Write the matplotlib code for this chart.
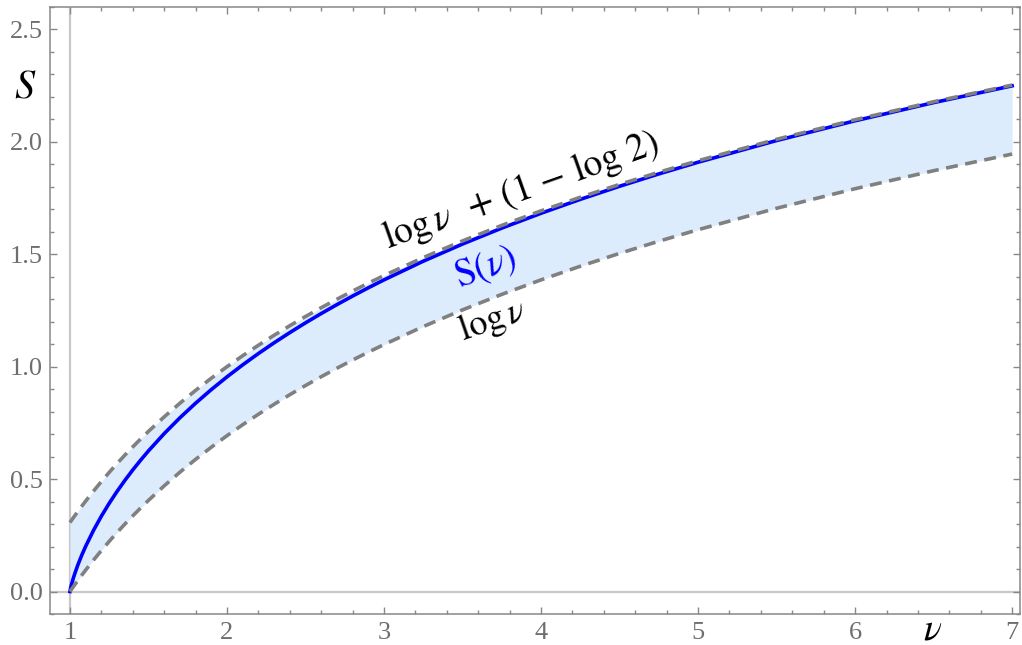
import matplotlib
matplotlib.use("Agg")
import matplotlib.pyplot as plt
from matplotlib.ticker import MultipleLocator, FixedLocator

plt.rcParams['mathtext.fontset'] = 'stix'

# Data (nu, lower bound log nu, upper bound, S(nu))
nu = [1.0, 1.005, 1.01, 1.02, 1.03, 1.05, 1.075, 1.1, 1.15, 1.2, 1.25, 1.3, 1.35, 1.4,
      1.45, 1.5, 1.6, 1.7, 1.8, 1.9, 2.0, 2.1, 2.2, 2.3, 2.4, 2.5, 2.6, 2.7, 2.8, 2.9,
      3.0, 3.25, 3.5, 3.75, 4.0, 4.25, 4.5, 4.75, 5.0, 5.5, 6.0, 6.5, 7.0]
lower = [0.0, 0.00499, 0.00995, 0.0198, 0.02956, 0.04879, 0.07232, 0.09531, 0.13976,
         0.18232, 0.22314, 0.26236, 0.30010, 0.33647, 0.37156, 0.40547, 0.47000, 0.53063,
         0.58779, 0.64185, 0.69315, 0.74194, 0.78846, 0.83291, 0.87547, 0.91629, 0.95551,
         0.99325, 1.02962, 1.06471, 1.09861, 1.17865, 1.25276, 1.32176, 1.38629, 1.44692,
         1.50408, 1.55814, 1.60944, 1.70475, 1.79176, 1.87180, 1.94591]
upper = [0.30685, 0.31184, 0.31680, 0.32665, 0.33641, 0.35564, 0.37917, 0.40216, 0.44661,
         0.48917, 0.52999, 0.56921, 0.60695, 0.64332, 0.67841, 0.71232, 0.77685, 0.83748,
         0.89464, 0.94870, 1.00000, 1.04879, 1.09531, 1.13976, 1.18232, 1.22314, 1.26236,
         1.30010, 1.33647, 1.37156, 1.40546, 1.48550, 1.55961, 1.62861, 1.69314, 1.75377,
         1.81093, 1.86499, 1.91629, 2.01160, 2.09861, 2.17865, 2.25276]
entropy = [0.0, 0.0175, 0.0315, 0.0561, 0.0781, 0.1175, 0.1613, 0.2010, 0.2720, 0.3351,
           0.3924, 0.4453, 0.4945, 0.5407, 0.5842, 0.6255, 0.7023, 0.7726, 0.8376, 0.8981,
           0.9548, 1.0081, 1.0585, 1.1063, 1.1517, 1.1951, 1.2365, 1.2762, 1.3143, 1.3510,
           1.3863, 1.4693, 1.5457, 1.6165, 1.6825, 1.7444, 1.8026, 1.8575, 1.9095, 2.0060,
           2.0939, 2.1747, 2.2493]

x_ticks = [1, 2, 3, 4, 5, 6, 7]
y_ticks = [0.0, 0.5, 1.0, 1.5, 2.0, 2.5]

fig = plt.figure(figsize=(10.22, 6.45), dpi=100)
ax = fig.add_axes([50/1022, 1-614/645, (1020-50)/1022, (614-7)/645])

ax.set_xlim(0.873, 7.05)
ax.set_ylim(-0.1, 2.6)

ax.axvline(1, color='#c8c8c8', lw=1.6, zorder=1)
ax.axhline(0, color='#c8c8c8', lw=1.6, zorder=1)

ax.fill_between(nu, lower, upper, color='#dcecfc', lw=0, zorder=2)
ax.plot(nu, entropy, color='#0000ff', lw=2.6, zorder=3, solid_joinstyle='round')
ax.plot(nu, upper, color='#808080', lw=2.6, dashes=(3.3, 2.1), zorder=4)
ax.plot(nu, lower, color='#808080', lw=2.6, dashes=(3.3, 2.1), zorder=4)

ax.text(3.87, 1.78, r'$\log\nu\ \,+\,(1\,-\,\log\,2)$', fontsize=27, rotation=19.5,
        ha='center', va='center', color='black', rotation_mode='anchor')
ax.text(3.65, 1.44, r'$\mathrm{S}(\nu)$', fontsize=27, rotation=19.5,
        ha='center', va='center', color='#0000ff', rotation_mode='anchor')
ax.text(3.69, 1.205, r'$\log\nu$', fontsize=26, rotation=19,
        ha='center', va='center', color='black', rotation_mode='anchor')

# axis labels
fig.text(25/1022, 1-87/645, r'$S$', fontsize=29, ha='center', va='center')
fig.text(933/1022, 1-639/645, r'$\nu$', fontsize=27, ha='center', va='baseline')

for s in ax.spines.values():
    s.set_color('#888888')
    s.set_linewidth(1.1)

ax.xaxis.set_major_locator(FixedLocator(x_ticks))
ax.xaxis.set_minor_locator(MultipleLocator(0.2))
ax.yaxis.set_major_locator(FixedLocator(y_ticks))
ax.yaxis.set_minor_locator(MultipleLocator(0.1))
ax.set_xticklabels([str(v) for v in x_ticks])
ax.set_yticklabels([f'{v:.1f}' for v in y_ticks])

ax.tick_params(which='both', direction='in', top=True, right=True, color='#888888', width=1.0)
ax.tick_params(which='major', length=5)
ax.tick_params(which='minor', length=2.6)
ax.tick_params(axis='both', labelsize=19, labelcolor='#6e6e6e')
ax.tick_params(axis='x', pad=6)
ax.tick_params(axis='y', pad=5)
for lab in ax.get_xticklabels() + ax.get_yticklabels():
    lab.set_fontfamily('Liberation Serif')

fig.savefig('out.png', dpi=100)
